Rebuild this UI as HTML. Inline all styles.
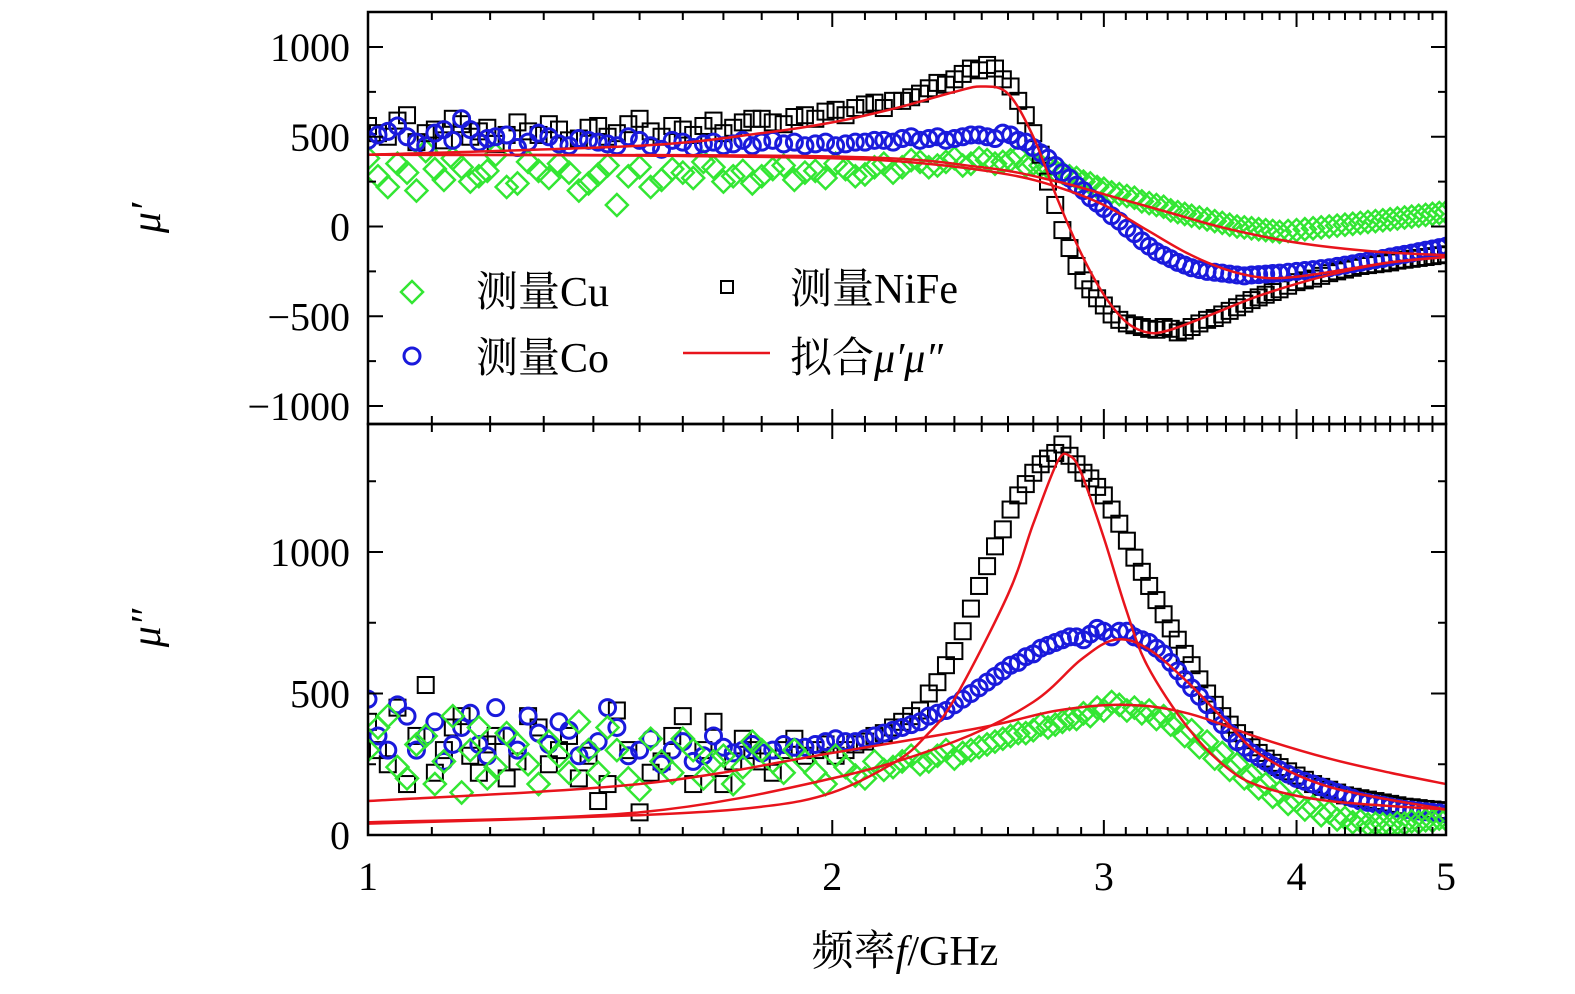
<!DOCTYPE html>
<html><head><meta charset="utf-8"><style>
html,body{margin:0;padding:0;background:#fff;}
svg{display:block;}
text{font-family:"Liberation Serif","Noto Serif CJK SC",serif;fill:#000;}
</style></head><body>
<svg id="chart" width="1575" height="994" viewBox="0 0 1575 994" xmlns="http://www.w3.org/2000/svg">
<g id="panelTop"></g>
<g id="panelBot"></g>
<g id="axes"></g>
</svg>
<script>
const freqs=[1.00,1.03,1.06,1.09,1.12,1.15,1.18,1.21,1.25,1.29,1.33,1.37,1.41,1.45,1.50,1.55,1.60,1.65,1.70,1.75,1.80,1.86,1.92,1.98,2.04,2.10,2.16,2.22,2.28,2.34,2.40,2.46,2.52,2.58,2.64,2.70,2.76,2.82,2.88,2.94,3.00,3.07,3.14,3.21,3.28,3.35,3.42,3.50,3.58,3.66,3.74,3.82,3.90,4.00,4.10,4.20,4.30,4.40,4.50,4.60,4.70,4.80,4.90,5.00];
const freqs2=[1.015,1.045,1.075,1.105,1.135,1.165,1.195,1.23,1.27,1.31,1.35,1.39,1.43,1.475,1.525,1.575,1.625,1.675,1.725,1.775,1.83,1.89,1.95,2.01,2.07,2.13,2.19,2.25,2.31,2.37,2.43,2.49,2.55,2.61,2.67,2.73,2.79,2.85,2.91,2.97,3.035,3.105,3.175,3.245,3.315,3.385,3.46,3.54,3.62,3.70,3.78,3.86,3.95,4.05,4.15,4.25,4.35,4.45,4.55,4.65,4.75,4.85,4.95];
const nifeRe=[560,500,620,520,480,570,530,460,580,510,540,490,560,520,600,500,540,560,520,580,600,570,620,640,620,680,660,700,740,800,820,880,900,820,700,520,250,-20,-220,-350,-440,-520,-550,-570,-560,-590,-560,-520,-490,-450,-410,-380,-350,-310,-290,-260,-240,-220,-210,-200,-185,-175,-165,-155];
const nifeRe2=[520,590,470,540,600,500,550,510,530,570,480,550,500,570,530,560,510,590,550,600,580,610,600,650,660,690,700,720,770,790,850,870,880,780,620,400,120,-120,-300,-400,-490,-540,-560,-575,-570,-580,-540,-510,-470,-430,-395,-365,-330,-300,-275,-250,-230,-215,-205,-190,-180,-170,-160];
const coRe=[480,530,500,450,540,600,470,500,440,520,460,490,470,450,480,430,470,460,450,480,470,460,450,470,460,470,480,490,480,500,490,510,500,520,480,440,380,300,230,160,100,30,-40,-110,-160,-200,-230,-250,-260,-270,-270,-265,-260,-250,-240,-230,-215,-200,-185,-170,-155,-140,-125,-110];
const coRe2=[510,560,470,520,480,540,490,510,470,500,450,480,460,500,450,480,440,470,460,450,480,470,460,450,470,480,470,500,490,480,500,510,490,510,470,410,340,270,200,130,60,-10,-80,-140,-180,-215,-240,-255,-265,-275,-268,-262,-255,-245,-235,-222,-208,-192,-178,-162,-148,-132,-118];
const cuRe=[380,220,300,420,260,330,280,400,240,310,350,200,290,120,330,260,300,360,250,310,280,340,300,270,320,290,350,330,360,340,380,350,370,360,390,350,330,300,270,240,210,180,160,130,110,80,60,40,20,0,-10,-20,-30,-20,-10,0,10,20,30,40,50,60,70,80];
const cuRe2=[280,350,200,320,380,250,310,220,360,270,300,240,340,280,220,320,270,330,280,240,320,260,310,350,280,330,300,370,330,360,340,380,350,370,340,340,310,280,250,220,190,170,140,120,90,70,50,30,10,-5,-15,-25,-25,-15,-5,5,15,25,35,45,55,65,75];
const nifeIm=[400,250,180,530,300,420,220,350,260,380,300,200,120,440,80,260,420,300,180,340,260,300,280,320,300,330,360,400,440,540,650,800,950,1080,1200,1280,1330,1380,1310,1260,1200,1100,980,880,780,690,600,500,420,360,310,270,240,210,180,160,140,130,120,110,100,95,90,85];
const nifeIm2=[300,450,350,220,380,280,320,200,420,250,350,280,180,300,220,350,180,400,260,300,220,340,300,280,320,350,380,420,500,600,720,880,1020,1150,1240,1310,1350,1340,1280,1230,1150,1040,930,830,730,640,550,460,390,335,290,255,225,195,170,150,135,125,115,105,98,92,88];
const coIm=[480,300,420,350,260,380,320,450,300,360,400,280,330,380,300,250,330,280,310,300,290,320,310,330,330,340,360,380,400,430,460,500,540,580,610,640,670,690,700,710,720,720,700,680,640,580,520,460,390,330,290,260,230,200,180,160,140,120,110,100,90,85,80,75];
const coIm2=[350,460,300,400,320,430,280,350,420,320,370,300,450,280,340,300,260,350,290,320,300,310,320,340,330,350,370,390,420,440,480,520,560,600,630,660,680,700,690,730,700,720,690,660,610,550,490,420,360,310,275,245,215,190,170,150,130,115,105,95,88,82,78];
const cuIm=[300,420,200,350,260,150,380,240,320,180,280,400,220,300,160,260,340,200,280,240,300,220,260,180,240,200,230,260,250,280,270,300,320,340,360,370,380,400,410,420,440,460,450,440,420,400,370,330,290,250,210,180,150,120,100,80,60,50,40,35,40,45,50,55];
const cuIm2=[380,240,320,180,420,300,200,360,250,330,220,300,380,200,340,220,300,260,180,330,260,300,220,280,210,260,240,280,260,300,290,310,330,350,360,390,390,410,430,450,470,440,430,410,390,350,310,270,230,200,165,135,110,90,70,55,45,38,38,42,48,52,58];
const fitNifeReF=[1,1.5,1.8,2.0,2.2,2.4,2.5,2.6,2.7,2.8,2.9,3.0,3.1,3.2,3.3,3.5,3.8,4.2,4.6,5];
const fitNifeReV=[400,450,520,580,660,750,780,740,500,150,-150,-380,-530,-590,-580,-500,-380,-270,-200,-170];
const fitCoReF=[1,1.5,2,2.3,2.6,2.8,3.0,3.2,3.4,3.6,3.8,4.0,4.3,4.6,5];
const fitCoReV=[400,395,380,350,290,220,120,-20,-150,-240,-285,-280,-240,-200,-170];
const fitCuReF=[1,2,2.5,2.8,3.0,3.3,3.6,4.0,4.5,5];
const fitCuReV=[400,390,330,250,180,80,-10,-90,-140,-160];
const fitNifeImF=[1,1.5,1.8,2.0,2.2,2.3,2.4,2.6,2.7,2.8,2.85,2.9,3.0,3.1,3.2,3.4,3.6,3.8,4.2,5];
const fitNifeImV=[40,70,100,150,260,350,480,850,1100,1320,1340,1280,1050,800,600,380,240,170,120,90];
const fitCoImF=[1,1.5,2,2.4,2.7,2.9,3.05,3.2,3.4,3.6,3.8,4.2,5];
const fitCoImV=[45,80,200,330,470,620,690,660,540,400,280,170,90];
const fitCuImF=[1,1.5,2,2.5,2.8,3.1,3.4,3.8,4.2,4.6,5];
const fitCuImV=[120,180,290,380,440,460,430,340,270,220,180];
const yTicksTop=[1000,500,0,-500,-1000];
const yTickLabelsTop=["1000","500","0","−500","−1000"];
const yTicksBot=[0,500,1000];
const yTickLabelsBot=["0","500","1000"];
const xTicks=[1,2,3,4,5];

const NS="http://www.w3.org/2000/svg";
const X0=368,X1=1446;
function xs(f){return X0+Math.log(f)/Math.log(5)*(X1-X0);}
const T={top:12,bot:424,vTop:1000+35/0.1795,vBot:-1000-18/0.1795};
const B={top:424,bot:835,vTop:(835-424)/0.283,vBot:0};
function ys(p,v){return p.bot-(v-p.vBot)/(p.vTop-p.vBot)*(p.bot-p.top);}
function el(tag,attrs,parent){const e=document.createElementNS(NS,tag);for(const k in attrs)e.setAttribute(k,attrs[k]);parent.appendChild(e);return e;}

const gT=document.getElementById('panelTop'),gB=document.getElementById('panelBot'),ax=document.getElementById('axes');
function clip(id,p){const c=el('clipPath',{id:id},document.getElementById('chart'));el('rect',{x:X0,y:p.top,width:X1-X0,height:p.bot-p.top},c);}
clip('cT',T);clip('cB',B);
gT.setAttribute('clip-path','url(#cT)');gB.setAttribute('clip-path','url(#cB)');

function marker(g,type,x,y,name){
  let m;
  if(type==='sq'){m=el('rect',{x:x-8,y:y-8,width:16,height:16,fill:'none',stroke:'#000','stroke-width':2},g);}
  else if(type==='ci'){m=el('circle',{cx:x,cy:y,r:8,fill:'none',stroke:'#1a1adc','stroke-width':3},g);}
  else {m=el('polygon',{points:`${x},${y-11} ${x+11},${y} ${x},${y+11} ${x-11},${y}`,fill:'none',stroke:'#33e633','stroke-width':2.5},g);}
  
  
  return m;
}
function series(g,p,vals,vals2,type,name){
  const s=el('g',{},g);
  
  
  vals.forEach((v,i)=>marker(s,type,xs(freqs[i]),ys(p,v),name+'-point'));
  vals2.forEach((v,i)=>marker(s,type,xs(freqs2[i]),ys(p,v),name+'-point'));
}
function fit(g,p,F,V,name){
  const pts=F.map((f,i)=>[xs(f),ys(p,V[i])]);
  let d=`M${pts[0][0]},${pts[0][1]}`;
  for(let i=0;i<pts.length-1;i++){
    const p0=pts[Math.max(i-1,0)],p1=pts[i],p2=pts[i+1],p3=pts[Math.min(i+2,pts.length-1)];
    const c1=[p1[0]+(p2[0]-p0[0])/6,p1[1]+(p2[1]-p0[1])/6],c2=[p2[0]-(p3[0]-p1[0])/6,p2[1]-(p3[1]-p1[1])/6];
    d+=` C${c1[0]},${c1[1]} ${c2[0]},${c2[1]} ${p2[0]},${p2[1]}`;
  }
  const l=el('path',{d:d,fill:'none',stroke:'#e8141c','stroke-width':2.5},g);
  
  
}
series(gT,T,cuRe,cuRe2,'di','cu-mu-prime');
series(gT,T,nifeRe,nifeRe2,'sq','nife-mu-prime');
series(gT,T,coRe,coRe2,'ci','co-mu-prime');
fit(gT,T,fitNifeReF,fitNifeReV,'fit-nife-mu-prime');
fit(gT,T,fitCoReF,fitCoReV,'fit-co-mu-prime');
fit(gT,T,fitCuReF,fitCuReV,'fit-cu-mu-prime');
series(gB,B,nifeIm,nifeIm2,'sq','nife-mu-double-prime');
series(gB,B,coIm,coIm2,'ci','co-mu-double-prime');
series(gB,B,cuIm,cuIm2,'di','cu-mu-double-prime');
fit(gB,B,fitNifeImF,fitNifeImV,'fit-nife-mu-double-prime');
fit(gB,B,fitCoImF,fitCoImV,'fit-co-mu-double-prime');
fit(gB,B,fitCuImF,fitCuImV,'fit-cu-mu-double-prime');

[T,B].forEach((p,k)=>{const r=el('rect',{x:X0,y:p.top,width:X1-X0,height:p.bot-p.top,fill:'none',stroke:'#000','stroke-width':2.5},ax);

});
for(let f=1;f<=5.001;f+=0.1){
  const x=xs(f);const major=Math.abs(f-Math.round(f))<0.01;const L=major?15:8;
  [T,B].forEach(p=>{el('line',{x1:x,x2:x,y1:p.bot,y2:p.bot-L,stroke:'#000','stroke-width':2},ax);el('line',{x1:x,x2:x,y1:p.top,y2:p.top+L,stroke:'#000','stroke-width':2},ax);});
}
xTicks.forEach(f=>{const t=el('text',{x:xs(f),y:890,'font-size':40,'text-anchor':'middle'},ax);t.textContent=String(f);

});
function yt(p,ticks,labels,name){
  for(let v=-1000;v<=1500;v+=250){const y=ys(p,v);if(y<p.top+2||y>p.bot)continue;
    const major=v%500===0;const L=major?15:8;
    el('line',{x1:X0,x2:X0+L,y1:y,y2:y,stroke:'#000','stroke-width':2},ax);
    el('line',{x1:X1,x2:X1-L,y1:y,y2:y,stroke:'#000','stroke-width':2},ax);}
  ticks.forEach((v,i)=>{const t=el('text',{x:350,y:ys(p,v)+14,'font-size':40,'text-anchor':'end'},ax);t.textContent=labels[i];
  
  });
}
yt(T,yTicksTop,yTickLabelsTop,'y-tick-label-top');
yt(B,yTicksBot,yTickLabelsBot,'y-tick-label-bottom');
function title(x,y,txt,name){const t=el('text',{x:x,y:y,'font-size':42,'text-anchor':'middle','font-style':'italic'},ax);
t.setAttribute('transform',`rotate(-90 ${x} ${y})`);t.textContent=txt;

}
title(160,218,"μ′",'y-axis-title-top');
title(160,628,"μ″",'y-axis-title-bottom');
const xt=el('text',{x:905,y:965,'font-size':42,'text-anchor':'middle'},ax);
xt.innerHTML='频率<tspan font-style="italic">f</tspan>/GHz';


const lg=el('g',{},ax);


marker(lg,'di',412,292,'legend-cu-marker');
el('rect',{x:721,y:281,width:12,height:12,fill:'none',stroke:'#000','stroke-width':2},lg);
marker(lg,'ci',412,356,'legend-co-marker');
const ll=el('line',{x1:683,x2:770,y1:353,y2:353,stroke:'#e8141c','stroke-width':2.5},lg);


function lt(x,y,html,name){const t=el('text',{x:x,y:y,'font-size':42},lg);t.innerHTML=html;

}
lt(476,306,'测量Cu','legend-cu-label');
lt(790,303,'测量NiFe','legend-nife-label');
lt(476,372,'测量Co','legend-co-label');
lt(790,372,'拟合<tspan font-style="italic">μ′μ″</tspan>','legend-fit-label');
</script>
</body></html>
